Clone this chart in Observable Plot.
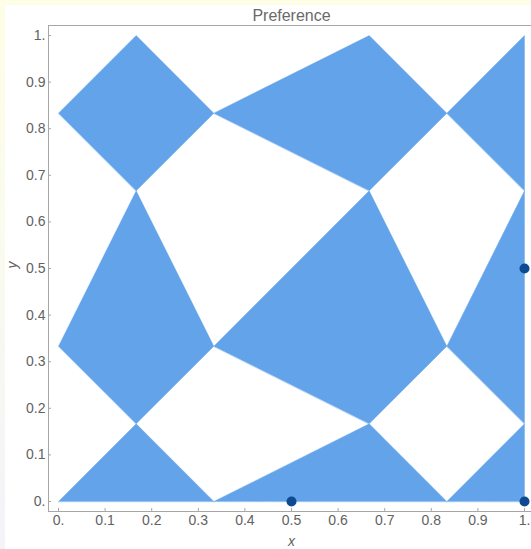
<!DOCTYPE html>
<html>
<head>
<meta charset="utf-8">
<script src="https://cdn.jsdelivr.net/npm/d3@7"></script>
<script src="https://cdn.jsdelivr.net/npm/@observablehq/plot@0.6"></script>
<style>
  html, body { margin: 0; padding: 0; }
  #wrap { position: relative; width: 531px; height: 549px; overflow: hidden;
    background: linear-gradient(180deg, #fefde6 0%, #fbfbee 40%, #f3f3fa 100%); }
  #chart { position: absolute; left: 5px; top: 5px; width: 526px; height: 544px; background: #ffffff; }
  #chart svg { display: block; }
</style>
</head>
<body>
<div id="wrap"><div id="chart"></div></div>
<script>
// Region polygons (vertices in data units)
const polygonIds = [
  "topLeft","topLeft","topLeft","topLeft",
  "topMid","topMid","topMid","topMid",
  "topRight","topRight","topRight",
  "midLeft","midLeft","midLeft","midLeft",
  "center","center","center","center",
  "midRight","midRight","midRight",
  "botLeft","botLeft","botLeft",
  "botMid","botMid","botMid",
  "botRight","botRight","botRight"
];
const polygonX = [
  0, 1/6, 1/3, 1/6,
  1/3, 2/3, 5/6, 2/3,
  5/6, 1, 1,
  0, 1/6, 1/3, 1/6,
  1/3, 2/3, 5/6, 2/3,
  5/6, 1, 1,
  0, 1/6, 1/3,
  1/3, 2/3, 5/6,
  5/6, 1, 1
];
const polygonY = [
  5/6, 1, 5/6, 2/3,
  5/6, 1, 5/6, 2/3,
  5/6, 1, 2/3,
  1/3, 2/3, 1/3, 1/6,
  1/3, 2/3, 1/3, 1/6,
  1/3, 2/3, 1/6,
  0, 1/6, 0,
  0, 1/6, 0,
  0, 1/6, 0
];
// Highlighted points
const pointX = [0.5, 1, 1];
const pointY = [0, 0.5, 0];
// Ticks
const tickValues = [0, 0.1, 0.2, 0.3, 0.4, 0.5, 0.6, 0.7, 0.8, 0.9, 1];
const tickLabels = ["0.", "0.1", "0.2", "0.3", "0.4", "0.5", "0.6", "0.7", "0.8", "0.9", "1."];
const titleText = ["Preference"];
const xLabel = ["x"];
const yLabel = ["y"];

const verts = polygonIds.map((id, i) => ({id, x: polygonX[i], y: polygonY[i]}));
const pts = pointX.map((x, i) => ({x, y: pointY[i]}));
const fmt = d => tickLabels[tickValues.indexOf(d)] ?? String(d);

const axisColor = "#a6a6a6";
const textColor = "#626262";
const font = "'Liberation Sans', Arial, sans-serif";

const chart = Plot.plot({
  width: 526,
  height: 544,
  marginLeft: 43,
  marginTop: 20,
  marginRight: 0,
  marginBottom: 38,
  style: { fontFamily: font, fontSize: "14px", background: "transparent", color: textColor },
  x: { domain: [-0.02146, 1.015], ticks: tickValues, tickFormat: fmt },
  y: { domain: [-0.02146, 1.0215], ticks: tickValues, tickFormat: fmt },
  marks: [
    Plot.line(verts, { x: "x", y: "y", z: "id", fill: "#63a3ea", stroke: "#63a3ea", strokeWidth: 0.4, curve: "linear-closed" }),
    Plot.axisX({ anchor: "bottom", ticks: tickValues, tickFormat: fmt, tickSize: -3, tickPadding: 7, stroke: axisColor, fill: textColor, label: null, fontSize: 14 }),
    Plot.axisY({ anchor: "left", ticks: tickValues, tickFormat: fmt, tickSize: -3, tickPadding: 6, stroke: axisColor, fill: textColor, label: null, fontSize: 14 }),
    Plot.ruleY([1.0215], { stroke: axisColor, strokeWidth: 1 }),
    Plot.ruleY([-0.02146], { stroke: axisColor, strokeWidth: 1 }),
    Plot.ruleX([-0.02146], { stroke: axisColor, strokeWidth: 1 }),
    Plot.dot(pts, { x: "x", y: "y", r: 5, fill: "#0d4a91", stroke: "none" }),
    Plot.text(titleText, { x: () => 0.5, frameAnchor: "top", lineAnchor: "middle", dy: -10, fontSize: 16, fill: "#6a6a6a", text: d => d }),
    Plot.text(xLabel, { x: () => 0.5, frameAnchor: "bottom", lineAnchor: "middle", dy: 30, fontSize: 14, fontStyle: "italic", fill: textColor, text: d => d }),
    Plot.text(yLabel, { y: () => 0.5, frameAnchor: "left", dx: -36, rotate: -90, fontSize: 14, fontStyle: "italic", fill: textColor, text: d => d })
  ]
});
document.getElementById("chart").appendChild(chart);
</script>
</body>
</html>
